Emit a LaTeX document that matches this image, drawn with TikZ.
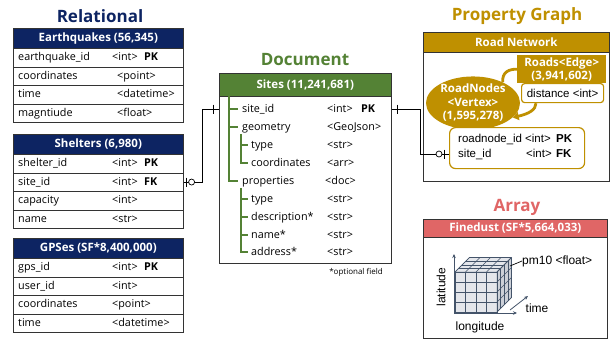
\documentclass[tikz,border=0pt]{standalone}
\usepackage{fontspec}
\setmainfont{Open Sans}
\newfontfamily\arialfont{Liberation Sans}
\usetikzlibrary{arrows.meta,shapes.geometric,calc}
\definecolor{relblue}{HTML}{0D2462}
\definecolor{docgreen}{HTML}{548235}
\definecolor{pggold}{HTML}{BF9000}
\definecolor{arrred}{HTML}{E06666}
\definecolor{cubeline}{HTML}{44546A}
\definecolor{cubefill}{HTML}{E4E6EB}

\tikzset{
  title/.style={font=\bfseries\fontsize{17}{20}\selectfont, inner sep=0},
  hdr/.style={draw=black!80, line width=0.6pt, anchor=north west, inner sep=0,
    text=white, font=\bfseries\fontsize{11.5}{13}\selectfont},
  rowbox/.style={draw=black!80, line width=0.6pt, fill=white, anchor=north west,
    inner sep=0, minimum width=170pt, minimum height=18.5pt},
  fld/.style={anchor=west, inner sep=0, text height=8pt, text depth=1.5pt,
    font=\fontsize{10.8}{12}\selectfont},
  keyf/.style={fld, font=\bfseries\fontsize{10.8}{12}\selectfont},
  afld/.style={anchor=west, inner sep=0, text height=8pt, text depth=1.5pt,
    font=\arialfont\fontsize{11.5}{13}\selectfont},
  akey/.style={afld, font=\arialfont\bfseries\fontsize{11.5}{13}\selectfont},
  conn/.style={draw=black, line width=0.7pt},
  tree/.style={draw=docgreen, line width=1.4pt},
  edgearc/.style={draw=pggold, line width=2.8pt},
  cube/.style={draw=cubeline, line width=0.5pt},
  axis/.style={draw=cubeline, line width=0.8pt, -{Stealth[length=4pt,width=3.5pt]}},
}

% one row of a relational table: name, top y, field, type offset, type, key
\newcommand\tabrow[6]{%
  \node[rowbox] (#1) at (13,#2) {};
  \node[fld] (#1f) at ([xshift=5pt]#1.west) {#3};
  \node[fld] (#1t) at ([xshift=#4pt]#1.west) {#5};
  \node[keyf] (#1k) at ([xshift=131pt]#1.west) {#6};
}
% one field of the document: name, x, y, field, type x, type
\newcommand\docitem[6]{%
  \node[fld] (#1) at (#2,#3) {#4};
  \node[fld] (#1t) at (#5,#3) {#6};
}

\begin{document}
\begin{tikzpicture}[x=1pt,y=-1pt]
\useasboundingbox (0,0) rectangle (613,341);

% ---------------- Relational ----------------
\node[title, text=relblue] (reltitle) at (100,16) {Relational};

\node[hdr, fill=relblue, minimum width=170pt, minimum height=20pt] (eqh) at (13,28) {Earthquakes (56,345)};
\tabrow{eq1}{48}{earthquake\_id}{99}{<int>}{PK}
\tabrow{eq2}{66.5}{coordinates}{104}{<point>}{}
\tabrow{eq3}{85}{time}{104}{<datetime>}{}
\tabrow{eq4}{103.5}{magntiude}{104}{<float>}{}

\node[hdr, fill=relblue, minimum width=170pt, minimum height=20pt] (shh) at (13,134) {Shelters (6,980)};
\tabrow{sh1}{154}{shelter\_id}{99}{<int>}{PK}
\tabrow{sh2}{172.5}{site\_id}{99}{<int>}{FK}
\tabrow{sh3}{191}{capacity}{99}{<int>}{}
\tabrow{sh4}{209.5}{name}{99}{<str>}{}

\node[hdr, fill=relblue, minimum width=170pt, minimum height=20pt] (gph) at (13,238) {GPSes (SF*8,400,000)};
\tabrow{gp1}{258}{gps\_id}{99}{<int>}{PK}
\tabrow{gp2}{276.5}{user\_id}{99}{<int>}{}
\tabrow{gp3}{295}{coordinates}{99}{<point>}{}
\tabrow{gp4}{313.5}{time}{99}{<datetime>}{}

% ---------------- Document ----------------
\node[title, text=docgreen] (doctitle) at (305,60) {Document};
\node[hdr, fill=docgreen, minimum width=172pt, minimum height=23pt] (sitesh) at (219,73) {Sites (11,241,681)};
\node[draw=black!80, line width=0.6pt, fill=white, anchor=north west, inner sep=0,
  minimum width=172pt, minimum height=167pt] (sitesbody) at (219,96) {};

\docitem{sid}{242}{109}{site\_id}{327}{<int>}
\node[keyf] (sidk) at (361,109) {PK};
\docitem{geo}{242}{127}{geometry}{327}{<GeoJson>}
\docitem{gtype}{251}{145}{type}{327}{<str>}
\docitem{gcoord}{251}{163}{coordinates}{327}{<arr>}
\docitem{props}{242}{181}{properties}{325}{<doc>}
\docitem{ptype}{251}{199}{type}{327}{<str>}
\docitem{pdesc}{251}{217}{description*}{327}{<str>}
\docitem{pname}{251}{235}{name*}{327}{<str>}
\docitem{paddr}{251}{252}{address*}{327}{<str>}

% nesting lines of the document fields
\draw[tree] (229,96) -- (229,181) -- (238,181);
\draw[tree] (229,109) -- (238,109);
\draw[tree] (229,127) -- (238,127);
\draw[tree] (241,134) -- (241,163) -- (248,163);
\draw[tree] (241,145) -- (248,145);
\draw[tree] (241,188) -- (241,252) -- (248,252);
\draw[tree] (241,199) -- (248,199);
\draw[tree] (241,217) -- (248,217);
\draw[tree] (241,235) -- (248,235);

\node[inner sep=0, font=\fontsize{8}{9}\selectfont] (optnote) at (356,272) {*optional field};

% ---------------- Property Graph ----------------
\node[title, text=pggold] (pgtitle) at (517,16) {Property Graph};
\node[hdr, fill=pggold, minimum width=186pt, minimum height=20pt] (rnh) at (423,32) {Road Network};
\node[draw=black!80, line width=0.6pt, fill=white, anchor=north west, inner sep=0,
  minimum width=186pt, minimum height=129pt] (rnbody) at (423,52) {};

\node[ellipse, fill=pggold, minimum width=94pt, minimum height=52pt, inner sep=0,
  text=white, align=center, font=\bfseries\fontsize{11.5}{13.5}\selectfont] (vtx) at (473,103)
  {RoadNodes\\<Vertex>\\(1,595,278)};
\node[fill=pggold, anchor=north west, inner sep=0, minimum width=89pt, minimum height=28pt,
  text=white, align=center, font=\bfseries\fontsize{11.5}{13}\selectfont] (edge) at (517,55)
  {Roads<Edge>\\(3,941,602)};
\node[draw=pggold, line width=1.2pt, rounded corners=3pt, fill=white, anchor=north west,
  inner sep=0, minimum width=82pt, minimum height=19pt,
  font=\arialfont\fontsize{11.5}{13}\selectfont] (dist) at (521,83) {distance <int>};

\draw[edgearc] (vtx.35) .. controls (502,72) and (509,69) .. (edge.west);
\draw[edgearc, -{Triangle[length=6pt,width=8pt]}] ($(dist.south west)+(15,0)$)
  .. controls (536,110) and (528,114) .. (vtx.-20);

\node[draw=pggold, line width=1.2pt, rounded corners=6pt, fill=white, anchor=north west,
  inner sep=0, minimum width=135pt, minimum height=41pt] (rnbox) at (449,127) {};
\node[afld] (rnid) at (458,139) {roadnode\_id};
\node[afld] (rnidt) at (525,139) {<int>};
\node[akey] (rnidk) at (556,139) {PK};
\node[afld] (rnsite) at (458,154) {site\_id};
\node[afld] (rnsitet) at (526,154) {<int>};
\node[akey] (rnsitek) at (556,154) {FK};

% ---------------- Array ----------------
\node[title, text=arrred] (arrtitle) at (517,207) {Array};
\node[hdr, fill=arrred, minimum width=184pt, minimum height=18pt] (fdh) at (423,219) {Finedust (SF*5,664,033)};
\node[draw=black!80, line width=0.6pt, fill=white, anchor=north west, inner sep=0,
  minimum width=184pt, minimum height=101pt] (fdbody) at (423,237) {};

% data cube: front, top and right faces with their cell grids
\filldraw[cube, fill=cubefill] (455,272) rectangle (497,312);
\filldraw[cube, fill=cubefill] (455,272) -- (497,272) -- (511.4,257.6) -- (469.4,257.6) -- cycle;
\filldraw[cube, fill=cubefill!85!cubeline] (497,272) -- (511.4,257.6) -- (511.4,297.6) -- (497,312) -- cycle;
\foreach \i in {1,2,3} {
  \draw[cube] (455+10.5*\i,272) -- (455+10.5*\i,312);
  \draw[cube] (455,272+10*\i) -- (497,272+10*\i);
}
\foreach \i in {0,...,4} {
  \draw[cube] (455+10.5*\i,272) -- ++(14.4,-14.4);
  \draw[cube] (455+3.6*\i,272-3.6*\i) -- ++(42,0);
  \draw[cube] (497,272+10*\i) -- ++(14.4,-14.4);
  \draw[cube] (497+3.6*\i,272-3.6*\i) -- ++(0,40);
}

\coordinate (orig) at (454,313);
\coordinate (latend) at (454,254);
\coordinate (lonend) at (517,313);
\coordinate (tstart) at (510,310);
\coordinate (tend) at (528,296);
\draw[axis] (orig) -- (latend);
\draw[axis] (orig) -- (lonend);
\draw[axis] (tstart) -- (tend);

\node[inner sep=0, rotate=90, font=\arialfont\fontsize{12}{14}\selectfont] (latlab) at (441,287) {latitude};
\node[inner sep=0, font=\arialfont\fontsize{12}{14}\selectfont] (lonlab) at (480,327) {longitude};
\node[inner sep=0, font=\arialfont\fontsize{12}{14}\selectfont] (tlab) at (537,308) {time};
\node[afld, font=\arialfont\fontsize{12}{14}\selectfont] (pmlab) at (522,261) {pm10 <float>};
\coordinate (cubecorner) at (510,266);
\draw[black, line width=0.7pt] (pmlab.west) -- (cubecorner);

% ---------------- connectors ----------------
\draw[conn] (sh2.east) -- ++(19,0) |- (sitesbody.west |- sid);
\draw[conn] ($(sh2.east)+(3,-4.5)$) -- ++(0,9);
\draw[conn, fill=white] ($(sh2.east)+(8,0)$) circle (3pt);
\draw[conn] ($(sitesbody.west |- sid)+(-6,-4.5)$) -- ++(0,9);

\draw[conn] (sitesbody.east |- sid) -- ++(29,0) |- (rnbox.west |- rnsite);
\draw[conn] ($(sitesbody.east |- sid)+(6,-4.5)$) -- ++(0,9);
\draw[conn, fill=white] ($(rnbox.west |- rnsite)+(-10,0)$) circle (3pt);
\draw[conn] ($(rnbox.west |- rnsite)+(-5,-4.5)$) -- ++(0,9);
\end{tikzpicture}
\end{document}
